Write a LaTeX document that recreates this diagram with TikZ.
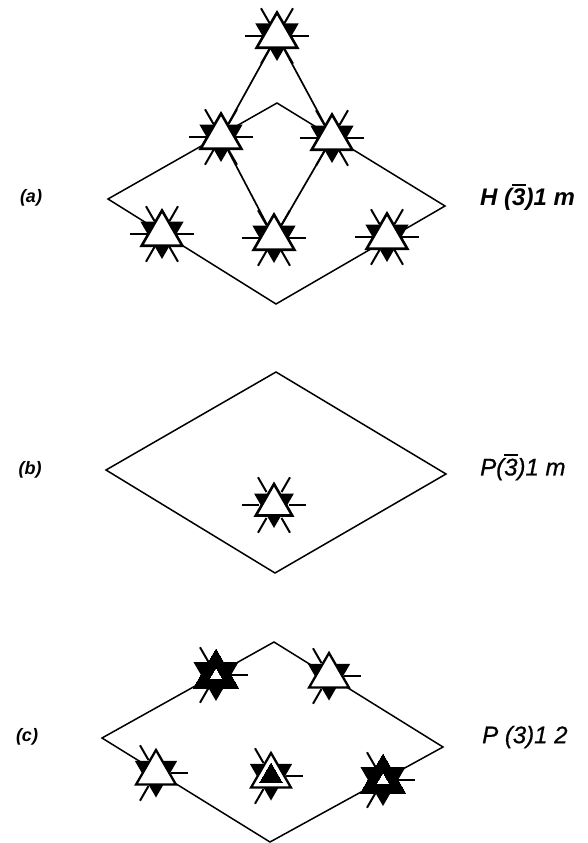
\documentclass[tikz,border=0pt]{standalone}
\usepackage{fontspec}
\setmainfont{Liberation Sans}
\newcommand\barnum{\leavevmode\rlap{\rule[0.8em]{.56em}{.11em}}3}
\newcommand\spokes[1]{\foreach \a in {#1}{\draw[spoke] (sc) +(\a:15) -- +(\a:32);}}
\newcommand\downtri[1]{\fill[black] (sc) +(90:#1) -- +(210:#1) -- +(330:#1) -- cycle;}
\newcommand\uptri[3]{\filldraw[#3,line width=#2] (sc) +(270:#1) -- +(30:#1) -- +(150:#1) -- cycle;}
\newcommand\fullsym[3]{\coordinate (sc) at (#1); \spokes{0,60,120,180,240,300}\downtri{#3}\uptri{#2}{2.6pt}{draw=black,fill=white}}
\newcommand\whitesym[1]{\coordinate (sc) at (#1); \spokes{0,120,240}\downtri{24.5}\uptri{23}{2.3pt}{draw=black,fill=white}}
\newcommand\blacksym[1]{\coordinate (sc) at (#1); \spokes{0,120,240}\downtri{26}\uptri{26}{0pt}{draw=black,fill=black}\uptri{6}{0pt}{draw=white,fill=white}}
\newcommand\ringsym[1]{\coordinate (sc) at (#1); \spokes{0,120,240}\downtri{24.5}\uptri{23}{2.3pt}{draw=black,fill=white}\uptri{13}{0pt}{draw=black,fill=black}}
\tikzset{
  spoke/.style={line width=2pt,draw=black},
  frame/.style={line width=1.5pt,draw=black,line join=miter},
  rod/.style={line width=1.7pt,draw=black},
  sgroup/.style={font=\itshape\addfontfeature{FakeBold=0.6}\fontsize{24}{26}\selectfont,inner sep=0pt,anchor=west},
  tag/.style={font=\bfseries\itshape\fontsize{18}{20}\selectfont,inner sep=0pt,anchor=center}
}
\begin{document}
\begin{tikzpicture}[x=1pt,y=-1pt]
\useasboundingbox (0,0) rectangle (588,843);
% (a)
\coordinate (aL) at (108,199); \coordinate (aT) at (277,103);
\coordinate (aR) at (445,206); \coordinate (aB) at (276,304);
\coordinate (a1) at (277,36); \coordinate (a2) at (221,137); \coordinate (a3) at (332,138);
\coordinate (a4) at (162,234); \coordinate (a5) at (274,238); \coordinate (a6) at (387,237);
\draw[frame] (aL) -- (aT) -- (aR) -- (aB) -- cycle;
\draw[rod] (a1) -- (a2) -- (a5) -- (a3) -- (a1);
\fullsym{a1}{23.5}{25}\fullsym{a2}{23.5}{25}\fullsym{a3}{23.5}{25}
\fullsym{a4}{23.5}{25}\fullsym{a5}{23.5}{25}\fullsym{a6}{23.5}{25}
% (b)
\coordinate (bL) at (106,470); \coordinate (bT) at (276,372);
\coordinate (bR) at (446,474); \coordinate (bB) at (275,573);
\coordinate (b1) at (274,505);
\draw[frame] (bL) -- (bT) -- (bR) -- (bB) -- cycle;
\fullsym{b1}{21}{23}
% (c)
\coordinate (cL) at (102,738); \coordinate (cT) at (274,642);
\coordinate (cR) at (443,747); \coordinate (cB) at (270,842);
\draw[frame] (cL) -- (cT) -- (cR) -- (cB) -- cycle;
\coordinate (c1) at (216,675); \coordinate (c2) at (329,676);
\coordinate (c3) at (156,773); \coordinate (c4) at (271,776); \coordinate (c5) at (383,780);
\blacksym{c1}\whitesym{c2}\whitesym{c3}\ringsym{c4}\blacksym{c5}
% labels
\node[tag] (la) at (31,198) {(a)};
\node[tag] (lb) at (30,470) {(b)};
\node[tag] (lc) at (27,737) {(c)};
\node[sgroup,font=\bfseries\itshape\fontsize{24}{26}\selectfont] (sa) at (480,197) {H (\barnum)1 m};
\node[sgroup] (sb) at (480,467) {P(\barnum)1 m};
\node[sgroup] (sc2) at (482,737) {P (3)1 2};
\end{tikzpicture}
\end{document}
